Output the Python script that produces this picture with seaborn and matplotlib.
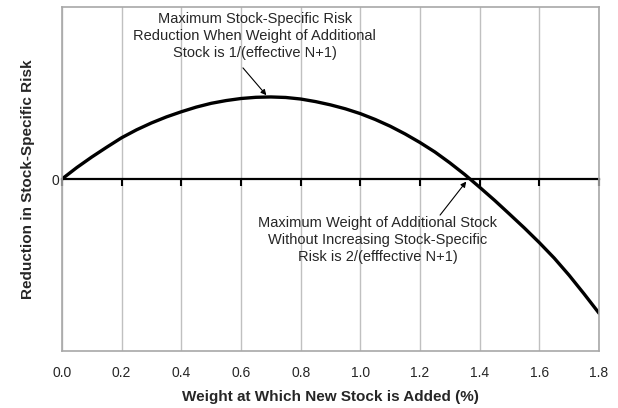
import matplotlib
matplotlib.use("Agg")
import matplotlib.pyplot as plt
import numpy as np
import pandas as pd
import seaborn as sns

# weight at which the new stock is added (%)
weight = [0.00, 0.05, 0.10, 0.15, 0.20, 0.25, 0.30, 0.35, 0.40, 0.45,
          0.50, 0.55, 0.60, 0.65, 0.70, 0.75, 0.80, 0.85, 0.90, 0.95,
          1.00, 1.05, 1.10, 1.15, 1.20, 1.25, 1.30, 1.35, 1.40, 1.45,
          1.50, 1.55, 1.60, 1.65, 1.70, 1.75, 1.80]
# reduction in stock-specific risk (arbitrary units)
reduction = [0.000, 0.067, 0.128, 0.185, 0.240, 0.286, 0.326, 0.361, 0.391, 0.418,
             0.440, 0.456, 0.468, 0.475, 0.477, 0.474, 0.465, 0.450, 0.431, 0.408,
             0.380, 0.346, 0.307, 0.262, 0.212, 0.157, 0.094, 0.026, -0.048, -0.124,
             -0.204, -0.285, -0.370, -0.460, -0.560, -0.668, -0.780]
x_ticks = [0.0, 0.2, 0.4, 0.6, 0.8, 1.0, 1.2, 1.4, 1.6, 1.8]
x_tick_labels = ["0.0", "0.2", "0.4", "0.6", "0.8", "1.0", "1.2", "1.4", "1.6", "1.8"]
peak_note = "Maximum Stock-Specific Risk\nReduction When Weight of Additional\nStock is 1/(effective N+1)"
cross_note = "Maximum Weight of Additional Stock\nWithout Increasing Stock-Specific\nRisk is 2/(efffective N+1)"

df = pd.DataFrame({"weight": weight, "reduction": reduction})

sns.set_style("white")
plt.rcParams["font.family"] = ["Liberation Sans", "DejaVu Sans"]

fig = plt.figure(figsize=(6.18, 4.08), dpi=100)
rect = [62 / 618, 1 - 351 / 408, 537 / 618, 344 / 408]
xlim, ylim = (0, 1.8), (-1, 1)

# back axes: grid and the category axis through zero with its tick marks
ax0 = fig.add_axes(rect)
ax0.set_xlim(*xlim)
ax0.set_ylim(*ylim)
ax0.set_xticks(x_ticks)
ax0.set_yticks([])
ax0.xaxis.grid(True, color="#c0c0c0", lw=1)
for name in ["left", "right", "top"]:
    ax0.spines[name].set_visible(False)
ax0.spines["bottom"].set_position(("data", 0))
ax0.spines["bottom"].set_color("black")
ax0.spines["bottom"].set_linewidth(1.6)
ax0.tick_params(axis="x", bottom=True, labelbottom=False, direction="out",
                length=5, width=1.5, color="black")

# front axes: frame, curve, labels, annotations
ax = fig.add_axes(rect)
ax.patch.set_visible(False)
ax.set_xlim(*xlim)
ax.set_ylim(*ylim)
ax.set_xticks(x_ticks)
ax.set_xticklabels(x_tick_labels)
ax.set_yticks([0])
ax.set_yticklabels(["0"])
ax.tick_params(axis="x", length=0, pad=11, labelsize=10)
ax.tick_params(axis="y", length=0, pad=2, labelsize=10)
for s in ax.spines.values():
    s.set_color("#a8a8a8")
    s.set_linewidth(1.2)

sns.lineplot(data=df, x="weight", y="reduction", ax=ax, color="black", lw=2.4)
ax.set_xlim(*xlim)
ax.set_ylim(*ylim)

ax.set_xlabel("Weight at Which New Stock is Added (%)", fontsize=11, fontweight="bold", labelpad=7)
ax.set_ylabel("Reduction in Stock-Specific Risk", fontsize=11, fontweight="bold", labelpad=12)

i_peak = int(np.argmax(reduction))
ax.text(0.359, 0.915, peak_note, transform=ax.transAxes, ha="center", va="center",
        fontsize=10.5, linespacing=1.28)
ax.annotate("", xy=(weight[i_peak] - 0.015, reduction[i_peak] + 0.01), xycoords="data",
            xytext=(0.337, 0.823), textcoords="axes fraction",
            arrowprops=dict(arrowstyle="-|>", color="black", lw=0.8, mutation_scale=8, shrinkA=0, shrinkB=0))

ax.text(0.588, 0.323, cross_note, transform=ax.transAxes, ha="center", va="center",
        fontsize=10.5, linespacing=1.28)
ax.annotate("", xy=(1.355, -0.015), xycoords="data",
            xytext=(0.704, 0.395), textcoords="axes fraction",
            arrowprops=dict(arrowstyle="-|>", color="black", lw=0.8, mutation_scale=8, shrinkA=0, shrinkB=0))

fig.savefig("out.png", dpi=100)
